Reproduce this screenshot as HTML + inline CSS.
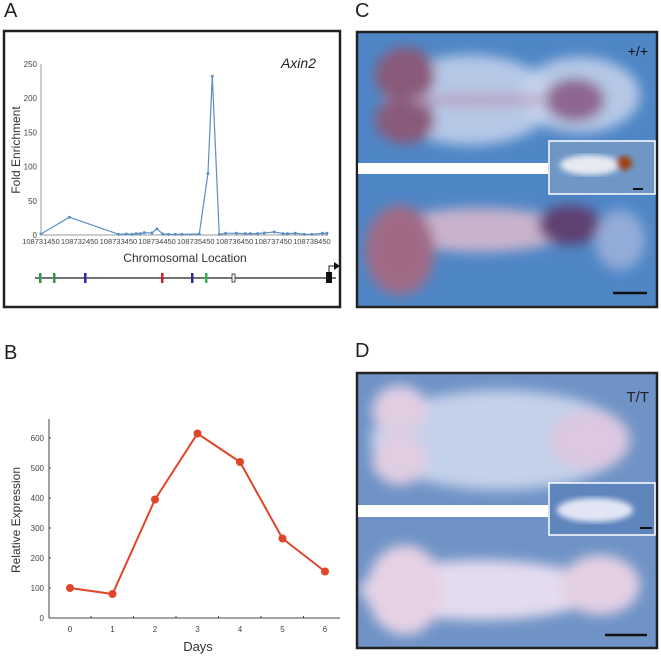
<!DOCTYPE html>
<html><head><meta charset="utf-8"><style>
body{margin:0;width:661px;height:656px;background:#fff;overflow:hidden;font-family:"Liberation Sans",sans-serif;position:relative}
.lbl{position:absolute;font-size:20px;color:#222}
svg{position:absolute;left:0;top:0}
</style></head><body>
<div class="lbl" style="left:4px;top:0">A</div>
<div class="lbl" style="left:4px;top:342px">B</div>
<div class="lbl" style="left:355px;top:0">C</div>
<div class="lbl" style="left:355px;top:340px">D</div>
<svg width="661" height="656" id="s">
<defs>
<filter id="b6"><feGaussianBlur stdDeviation="6"/></filter>
<filter id="b3"><feGaussianBlur stdDeviation="3"/></filter>
<clipPath id="cc"><rect x="357" y="32" width="300" height="275"/></clipPath>
<clipPath id="cd"><rect x="357" y="373" width="300" height="275"/></clipPath>
</defs>
<rect x="4" y="31" width="336" height="276" fill="#fff" stroke="#222" stroke-width="2.5"/>
<g id="ga"></g>
<g id="gb"></g>
<!-- Panel C -->
<g clip-path="url(#cc)">
<rect x="357" y="32" width="300" height="275" fill="#4f86c6"/>
<g filter="url(#b6)">
<ellipse cx="470" cy="100" rx="85" ry="45" fill="#c8d4ec" opacity=".85"/>
<ellipse cx="580" cy="95" rx="60" ry="38" fill="#c8d4ec" opacity=".85"/>
<ellipse cx="405" cy="75" rx="30" ry="28" fill="#8a5a7a"/>
<ellipse cx="405" cy="120" rx="30" ry="24" fill="#8a5a7a"/>
<ellipse cx="575" cy="100" rx="30" ry="22" fill="#8e6690"/>
<ellipse cx="480" cy="100" rx="70" ry="6" fill="#b8a0c0"/>
<ellipse cx="480" cy="230" rx="90" ry="22" fill="#c9b3cc"/>
<ellipse cx="400" cy="250" rx="35" ry="45" fill="#a06a86"/>
<ellipse cx="570" cy="225" rx="32" ry="20" fill="#5f3f72"/>
<ellipse cx="620" cy="240" rx="25" ry="30" fill="#b0bce0" opacity=".7"/>
</g>
</g>
<rect x="357" y="32" width="300" height="275" fill="none" stroke="#222" stroke-width="2.5"/>
<rect x="358" y="163" width="190" height="11" fill="#fff"/>
<rect x="549" y="141" width="106" height="53" fill="#6f97c6" stroke="#fff" stroke-width="1.5"/>
<g filter="url(#b3)"><ellipse cx="590" cy="165" rx="30" ry="10" fill="#e8eaf2"/><ellipse cx="624" cy="163" rx="8" ry="7" fill="#a04010"/></g>
<line x1="633" y1="189" x2="643" y2="189" stroke="#111" stroke-width="2"/>
<line x1="613" y1="293" x2="647" y2="293" stroke="#111" stroke-width="2.5"/>
<text x="648" y="56" text-anchor="end" font-size="14" fill="#111" font-family="Liberation Sans">+/+</text>
<!-- Panel D -->
<g clip-path="url(#cd)">
<rect x="357" y="373" width="300" height="275" fill="#6f93c6"/>
<g filter="url(#b6)">
<ellipse cx="500" cy="440" rx="130" ry="50" fill="#d4dcf0" opacity=".85"/>
<ellipse cx="400" cy="410" rx="28" ry="25" fill="#e0cde2"/>
<ellipse cx="400" cy="460" rx="28" ry="25" fill="#e0cde2"/>
<ellipse cx="590" cy="440" rx="40" ry="30" fill="#dcc8e0"/>
<ellipse cx="480" cy="590" rx="120" ry="30" fill="#e4dcee"/>
<ellipse cx="405" cy="590" rx="38" ry="45" fill="#e6d2e4"/>
<ellipse cx="600" cy="585" rx="40" ry="30" fill="#e4d0e4"/>
</g>
</g>
<rect x="357" y="373" width="300" height="275" fill="none" stroke="#222" stroke-width="2.5"/>
<rect x="358" y="505" width="190" height="12" fill="#fff"/>
<rect x="549" y="483" width="106" height="52" fill="#5f85bd" stroke="#fff" stroke-width="1.5"/>
<g filter="url(#b3)"><ellipse cx="595" cy="510" rx="38" ry="12" fill="#e2e6f4"/></g>
<line x1="640" y1="528" x2="652" y2="528" stroke="#111" stroke-width="2"/>
<line x1="605" y1="635" x2="647" y2="635" stroke="#111" stroke-width="2.5"/>
<text x="649" y="402" text-anchor="end" font-size="15" fill="#222" font-family="Liberation Sans">T/T</text>
</svg>
<script>
const NS='http://www.w3.org/2000/svg';
function mk(p,t,a){const e=document.createElementNS(NS,t);for(const k in a)e.setAttribute(k,a[k]);p.appendChild(e);return e;}
// ---- Chart A data ----
const aPos=[0,732,2006,2204,2351,2462,2566,2669,2867,2996,3143,3298,3470,3642,4090,4314,4426,4606,4770,5045,5278,5407,5597,5769,6027,6251,6371,6569,6802,7000,7275,7387];
const aVal=[1.5,26,1,1.5,1,2,2,3.4,3,9,1.5,1,1,1,1.5,90,232,1,2.5,2.5,2,2,2,3,4.4,2,2,2.5,1,1,2.5,2.5];
const aYTicks=[0,50,100,150,200,250];
const aXTicks=[108731450,108732450,108733450,108734450,108735450,108736450,108737450,108738450];
const aStart=108731450;
const ax=v=>41+(v)*0.0387, ay=v=>235-v*171/250;
const ga=document.getElementById('ga');
let e=mk(ga,'line',{x1:41,y1:64,x2:41,y2:235,stroke:'#999','stroke-width':1});

e=mk(ga,'line',{x1:41,y1:235,x2:328,y2:235,stroke:'#999','stroke-width':1});

aYTicks.forEach(t=>{const l=mk(ga,'text',{x:37,y:ay(t)+3,'text-anchor':'end','font-size':8,fill:'#444'});l.textContent=t;
});
aXTicks.forEach(t=>{const l=mk(ga,'text',{x:ax(t-aStart),y:244,'text-anchor':'middle','font-size':7.5,fill:'#444'});l.textContent=t;
});
e=mk(ga,'polyline',{points:aPos.map((p,i)=>ax(p)+','+ay(aVal[i])).join(' '),fill:'none',stroke:'#5b8fc8','stroke-width':1.2});

aPos.forEach((p,i)=>{const c=mk(ga,'circle',{cx:ax(p),cy:ay(aVal[i]),r:1.5,fill:'#5b8fc8'});
});
let t=mk(ga,'text',{x:316,y:68,'text-anchor':'end','font-size':14,'font-style':'italic',fill:'#222'});t.textContent='Axin2';

t=mk(ga,'text',{x:185,y:262,'text-anchor':'middle','font-size':12,fill:'#333'});t.textContent='Chromosomal Location';

t=mk(ga,'text',{x:0,y:0,'text-anchor':'middle','font-size':12,fill:'#333',transform:'translate(20,150) rotate(-90)'});t.textContent='Fold Enrichment';

e=mk(ga,'line',{x1:35,y1:278,x2:336,y2:278,stroke:'#222','stroke-width':1.2});

[[40,'#2a9a4a'],[54,'#2a9a4a'],[85,'#2a2a9a'],[162,'#d02020'],[192,'#2a2a9a'],[206,'#3ab050']].forEach(([x,c])=>{
const r=mk(ga,'rect',{x:x-1,y:273,width:2.5,height:10,fill:c});});
mk(ga,'rect',{x:232,y:274,width:3,height:8,fill:'#fff',stroke:'#222','stroke-width':.8});
mk(ga,'rect',{x:326,y:272,width:6,height:11,fill:'#111'});
mk(ga,'path',{d:'M329 272 V266 H334',fill:'none',stroke:'#222','stroke-width':1});
mk(ga,'path',{d:'M334 262 L340 266 L334 270 Z',fill:'#111'});
// ---- Chart B data ----
const bDays=[0,1,2,3,4,5,6];
const bVal=[100,80,395,615,520,265,155];
const bYTicks=[0,100,200,300,400,500,600];
const bx=d=>70+d*42.5, by=v=>618-v*0.3;
const gb=document.getElementById('gb');
e=mk(gb,'line',{x1:49,y1:419,x2:49,y2:618,stroke:'#444','stroke-width':1});

e=mk(gb,'line',{x1:49,y1:618,x2:340,y2:618,stroke:'#444','stroke-width':1});

bYTicks.forEach(v=>{mk(gb,'line',{x1:49,y1:by(v),x2:51,y2:by(v),stroke:'#444'});
const l=mk(gb,'text',{x:44,y:by(v)+3,'text-anchor':'end','font-size':8,fill:'#444'});l.textContent=v;
});
bDays.forEach((d,i)=>{if(i<bDays.length-1)mk(gb,'line',{x1:bx(d)+21,y1:616,x2:bx(d)+21,y2:618,stroke:'#444'});
const l=mk(gb,'text',{x:bx(d),y:632,'text-anchor':'middle','font-size':8,fill:'#444'});l.textContent=d;
});
e=mk(gb,'polyline',{points:bDays.map((d,i)=>bx(d)+','+by(bVal[i])).join(' '),fill:'none',stroke:'#e0452a','stroke-width':2});

bDays.forEach((d,i)=>{const c=mk(gb,'circle',{cx:bx(d),cy:by(bVal[i]),r:4,fill:'#e0452a'});
});
t=mk(gb,'text',{x:198,y:651,'text-anchor':'middle','font-size':13,fill:'#333'});t.textContent='Days';

t=mk(gb,'text',{x:0,y:0,'text-anchor':'middle','font-size':12,fill:'#333',transform:'translate(20,520) rotate(-90)'});t.textContent='Relative Expression';

</script>
</body></html>
